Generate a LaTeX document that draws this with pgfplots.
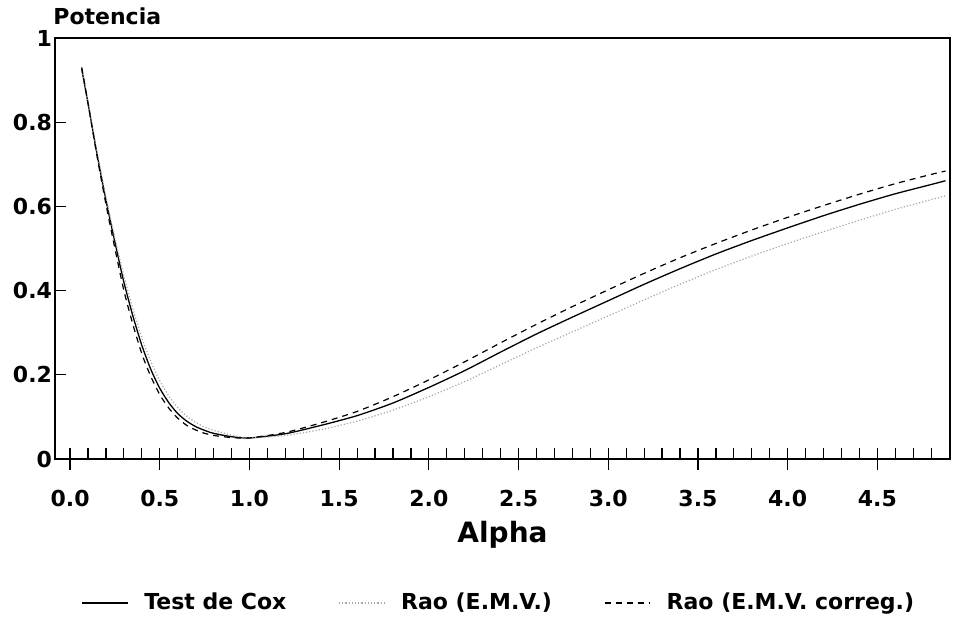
\documentclass[border=0pt]{standalone}
\usepackage{fontspec}
\setmainfont{DejaVu Sans}
\usepackage{pgfplots}
\pgfplotsset{compat=1.18}
\begin{document}
\begin{tikzpicture}
\begin{axis}[
  scale only axis,
  width=447.5pt, height=210.5pt,
  xmin=-0.084, xmax=4.905, ymin=0, ymax=1,
  axis line style={line width=0.6pt},
  xtick={0,0.5,...,4.5},
  minor xtick={0,0.1,...,4.95},
  ytick={0,0.2,0.4,0.6,0.8,1},
  yticklabels={0,0.2,0.4,0.6,0.8,1},
  minor ytick={0.2,0.4,0.6,0.8},
  xtick pos=bottom, ytick pos=left,
  xtick align=center, ytick align=inside,
  major tick length=10.5pt, minor tick length=5.5pt,
  major y tick style={draw=none},
  minor x tick style={yshift=2.75pt},
  tick style={black, line width=0.6pt},
  xticklabel style={/pgf/number format/fixed, /pgf/number format/fixed zerofill, /pgf/number format/precision=1, anchor=center, yshift=-14.5pt},
  yticklabel style={xshift=2pt},
  /pgf/number format/assume math mode=true,
  ticklabel style={font=\fontsize{11}{13}\selectfont\bfseries},
  xlabel={Alpha},
  xlabel style={font=\fontsize{14}{16}\selectfont\bfseries, at={(axis description cs:0.5,0)}, anchor=center, yshift=-38pt},
  legend columns=3,
  legend style={draw=none, at={(0.497,0)}, anchor=center, yshift=-72pt, font=\fontsize{11}{13}\selectfont\bfseries, /tikz/every even column/.append style={column sep=24pt}, /tikz/every odd column/.append style={column sep=6pt}},
  legend image code/.code={\draw[#1] (0cm,0cm) -- (0.8cm,0cm);},
  clip=false,
]
\addplot[black, line width=0.65pt, smooth, tension=0.4] coordinates {
(0.065,0.926) (0.10,0.845) (0.15,0.725) (0.20,0.615) (0.25,0.515) (0.30,0.420)
(0.35,0.340) (0.40,0.270) (0.45,0.213) (0.50,0.168) (0.55,0.134) (0.60,0.108)
(0.65,0.090) (0.70,0.077) (0.75,0.068) (0.80,0.061) (0.90,0.053) (1.00,0.050)
(1.2,0.060) (1.4,0.080) (1.6,0.103) (1.8,0.133) (2.0,0.170) (2.2,0.210)
(2.4,0.254) (2.6,0.297) (2.8,0.337) (3.0,0.376) (3.2,0.415) (3.4,0.452)
(3.6,0.487) (3.8,0.519) (4.0,0.549) (4.2,0.578) (4.4,0.605) (4.6,0.630)
(4.8,0.652) (4.88,0.661)};
\addlegendentry{Test de Cox}
\addplot[black!35, densely dotted, line width=0.6pt, smooth, tension=0.4] coordinates {
(0.065,0.93) (0.10,0.848) (0.15,0.73) (0.20,0.622) (0.25,0.525) (0.30,0.435)
(0.35,0.357) (0.40,0.288) (0.45,0.232) (0.50,0.186) (0.55,0.150) (0.60,0.122)
(0.65,0.102) (0.70,0.087) (0.75,0.076) (0.80,0.068) (0.90,0.057) (1.00,0.050)
(1.2,0.056) (1.4,0.070) (1.6,0.090) (1.8,0.116) (2.0,0.148) (2.2,0.184)
(2.4,0.224) (2.6,0.264) (2.8,0.302) (3.0,0.340) (3.2,0.378) (3.4,0.415)
(3.6,0.450) (3.8,0.482) (4.0,0.512) (4.2,0.540) (4.4,0.567) (4.6,0.593)
(4.8,0.616) (4.88,0.625)};
\addlegendentry{Rao (E.M.V.)}
\addplot[black, dash pattern=on 3pt off 2.5pt, line width=0.6pt, smooth, tension=0.4] coordinates {
(0.065,0.93) (0.10,0.845) (0.15,0.72) (0.20,0.605) (0.25,0.50) (0.30,0.40)
(0.35,0.32) (0.40,0.25) (0.45,0.196) (0.50,0.153) (0.55,0.121) (0.60,0.097)
(0.65,0.080) (0.70,0.069) (0.75,0.061) (0.80,0.056) (0.90,0.051) (1.00,0.050)
(1.2,0.063) (1.4,0.086) (1.6,0.113) (1.8,0.148) (2.0,0.188) (2.2,0.231)
(2.4,0.276) (2.6,0.320) (2.8,0.362) (3.0,0.402) (3.2,0.441) (3.4,0.478)
(3.6,0.512) (3.8,0.544) (4.0,0.574) (4.2,0.602) (4.4,0.629) (4.6,0.654)
(4.8,0.676) (4.88,0.684)};
\addlegendentry{Rao (E.M.V. correg.)}
\coordinate (bl) at (rel axis cs:0,0);
\coordinate (tr) at (rel axis cs:1,1);
\node[anchor=base west, inner sep=0pt, font=\fontsize{11}{13}\selectfont\bfseries] at ([xshift=-1pt,yshift=6.5pt]rel axis cs:0,1) {Potencia};
\end{axis}
\path ([xshift=-27.5pt,yshift=-79.5pt]bl) rectangle ([xshift=5.5pt,yshift=19pt]tr);
\end{tikzpicture}
\end{document}
